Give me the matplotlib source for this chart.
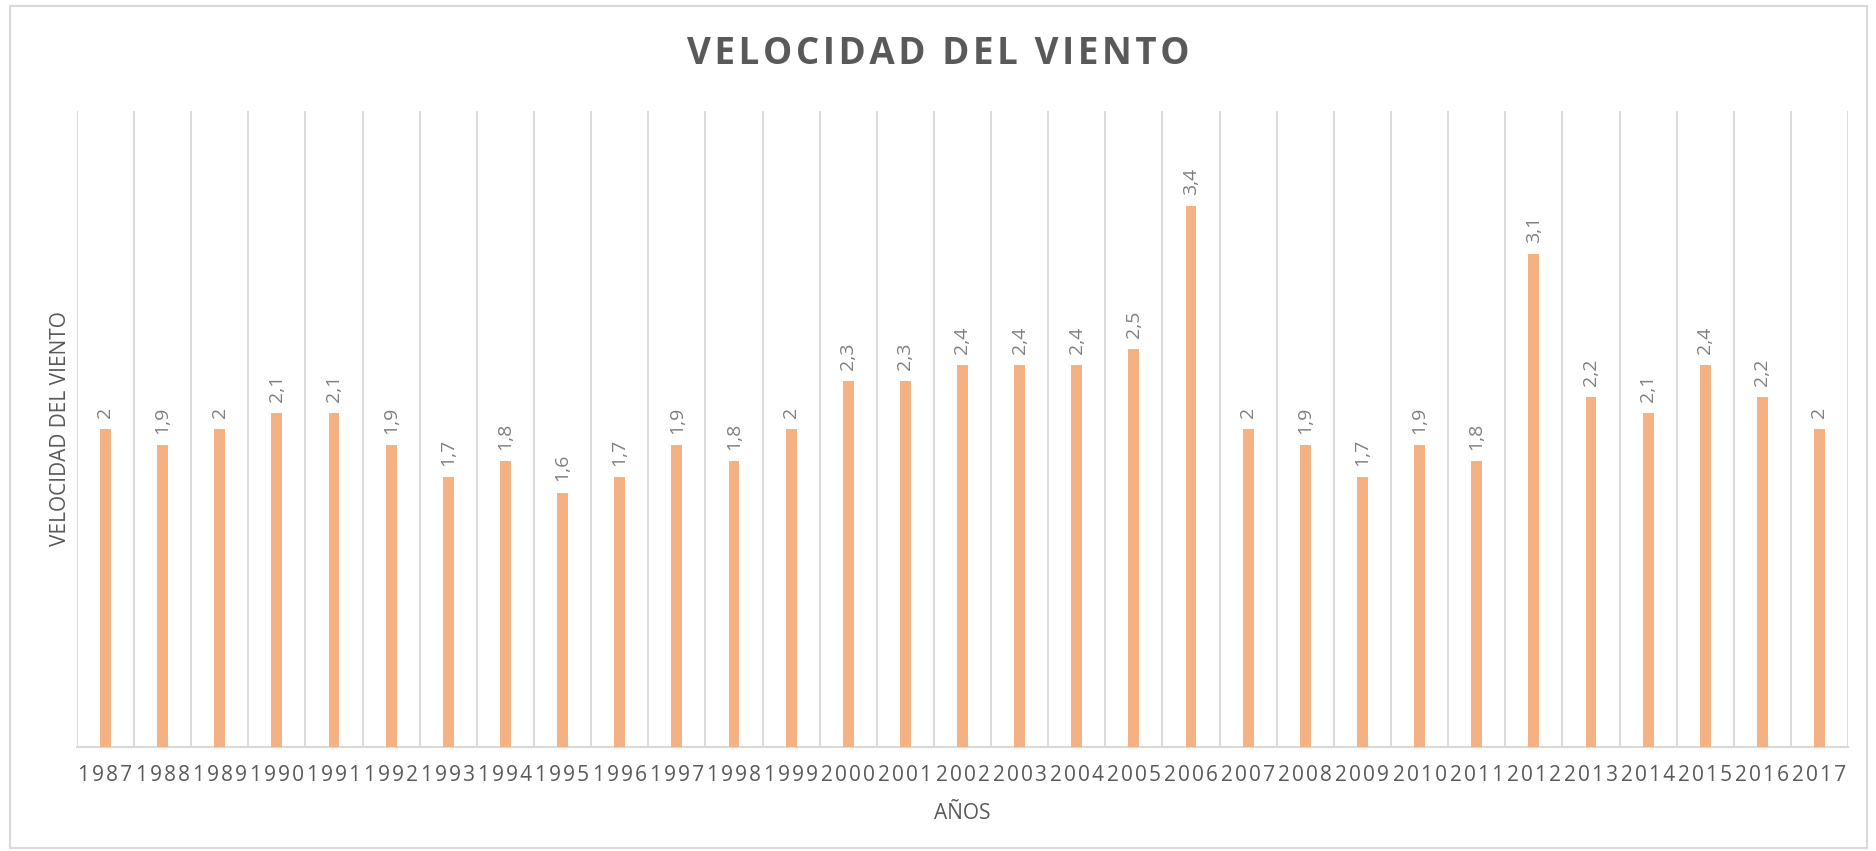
import numpy as np
import matplotlib
matplotlib.use("Agg")
from matplotlib import pyplot as plt
from matplotlib.patches import Rectangle

plt.rcParams['font.family'] = ['Open Sans', 'DejaVu Sans']

# data
years = [1987, 1988, 1989, 1990, 1991, 1992, 1993, 1994, 1995, 1996,
         1997, 1998, 1999, 2000, 2001, 2002, 2003, 2004, 2005, 2006,
         2007, 2008, 2009, 2010, 2011, 2012, 2013, 2014, 2015, 2016, 2017]
velocidad = [2, 1.9, 2, 2.1, 2.1, 1.9, 1.7, 1.8, 1.6, 1.7,
             1.9, 1.8, 2, 2.3, 2.3, 2.4, 2.4, 2.4, 2.5, 3.4,
             2, 1.9, 1.7, 1.9, 1.8, 3.1, 2.2, 2.1, 2.4, 2.2, 2]

HS = "\u200a"  # hair space, fakes excel's letter spacing


def spaced(s, sep=HS):
    return sep.join(list(s))


fig = plt.figure(figsize=(18.76, 8.51), dpi=100)
ax = fig.add_axes([0.041, 0.1222, 0.9441, 0.7474])

# light outer frame of the chart
fig.patches.append(Rectangle((0.0053, 0.004), 0.990, 0.989, transform=fig.transFigure,
                             fill=False, edgecolor='#d9d9d9', lw=1.5))

x = np.arange(len(years))
bars = ax.bar(x, velocidad, width=0.19, color='#f4b183', zorder=3)

labels = [str(v).replace('.', ',') for v in velocidad]
ax.bar_label(bars, labels=labels, rotation=90, padding=8, fontsize=14, color='#7f7f7f')

# vertical grid lines between categories
for b in np.arange(-0.5, len(years), 1.0):
    ax.axvline(b, color='#d9d9d9', lw=1.3, zorder=1)

ax.set_xlim(-0.5, len(years) - 0.5)
ax.set_ylim(0, 4)
ax.set_yticks([])
ax.set_xticks(x)
ax.set_xticklabels([spaced(str(y)) for y in years], fontsize=15, color='#595959')
ax.tick_params(axis='x', length=0, pad=13)

for s in ['top', 'left', 'right']:
    ax.spines[s].set_visible(False)
ax.spines['bottom'].set_color('#d9d9d9')
ax.spines['bottom'].set_linewidth(1.5)

ax.set_xlabel('AÑOS', fontsize=15, color='#595959', labelpad=12)
ax.set_ylabel('VELOCIDAD DEL VIENTO', fontsize=15, color='#595959', labelpad=4)

fig.text(0.5, 0.937, spaced('VELOCIDAD DEL VIENTO'), ha='center', va='center',
         fontsize=26.5, fontweight='bold', color='#595959')

plt.savefig('out.png', dpi=100)
